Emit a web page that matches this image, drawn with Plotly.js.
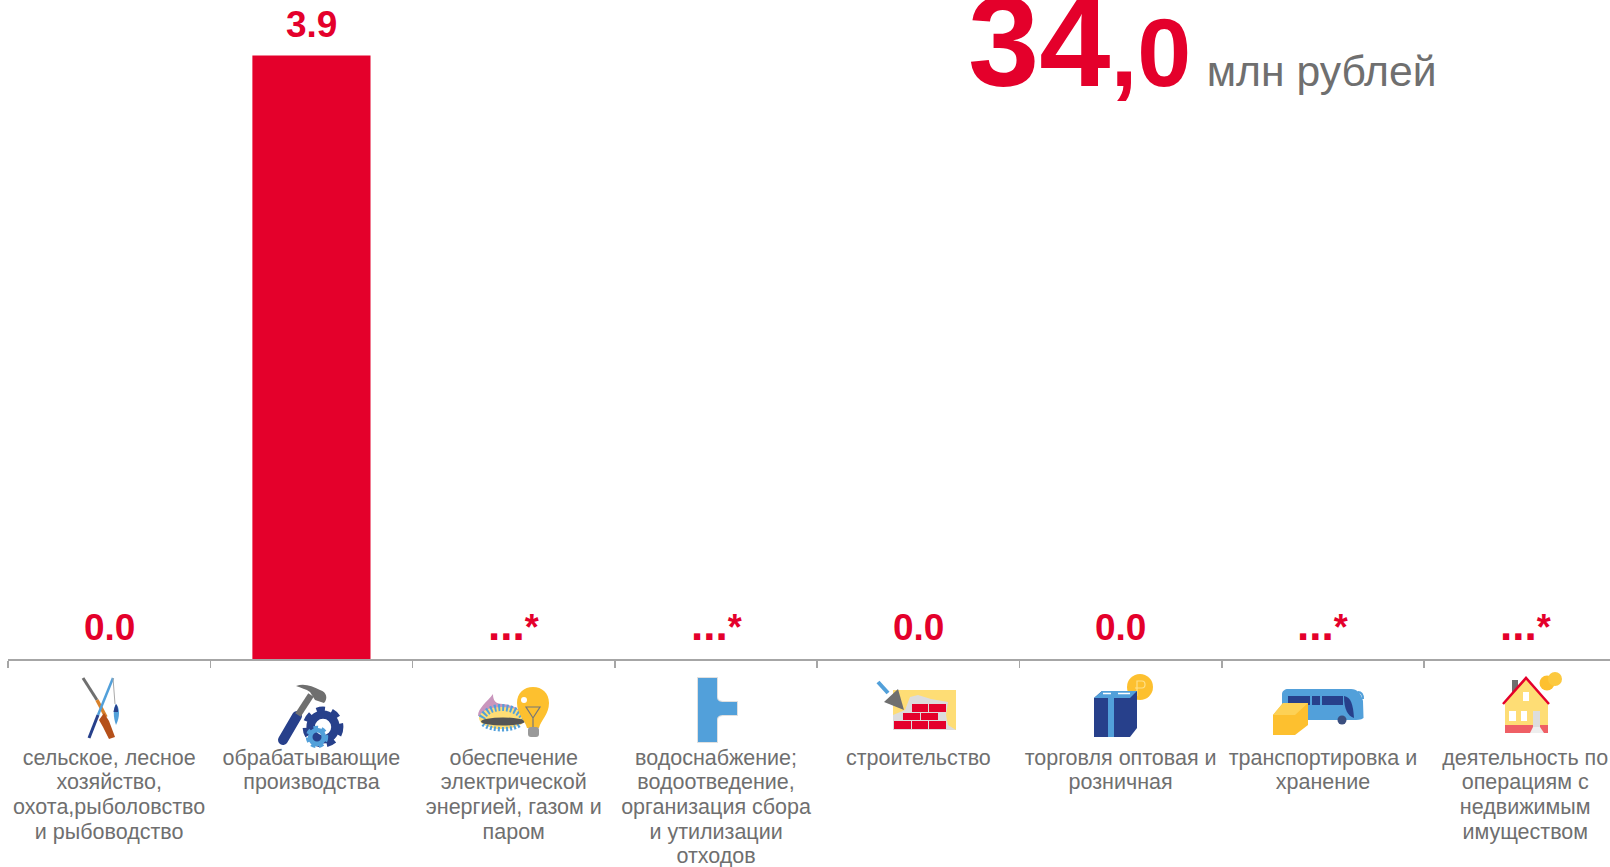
<!DOCTYPE html>
<html><head><meta charset="utf-8">
<script src="https://cdn.plot.ly/plotly-3.0.1.min.js"></script>
<style>html,body{margin:0;padding:0;background:#fff;overflow:hidden}#c{width:1610px;height:867px}</style>
</head><body><div id="c"></div>
<script>
const categories = [
 'сельское, лесное<br>хозяйство,<br>охота,рыболовство<br>и рыбоводство',
 'обрабатывающие<br>производства',
 'обеспечение<br>электрической<br>энергией, газом и<br>паром',
 'водоснабжение;<br>водоотведение,<br>организация сбора<br>и утилизации<br>отходов',
 'строительство',
 'торговля оптовая и<br>розничная',
 'транспортировка и<br>хранение',
 'деятельность по<br>операциям с<br>недвижимым<br>имуществом'];
const values = [0, 3.9, null, null, 0, 0, null, null];
const valueLabels = ['0.0','3.9','...*','...*','0.0','0.0','...*','...*'];
const RED='#e4002b', GREY='#6f6f6f', AXIS='#a6a6a6';
const BLUE='#52a0da', NAVY='#27408b', YEL='#fdc02f', LY='#fedd75';

const gear=(x,y,r,c)=>`<circle cx="${x}" cy="${y}" r="${r*0.62}" fill="none" stroke="${c}" stroke-width="${r*0.42}"/><circle cx="${x}" cy="${y}" r="${r*0.88}" fill="none" stroke="${c}" stroke-width="${r*0.28}" stroke-dasharray="${r*0.42} ${r*0.34}"/>`;
const bricks=(a)=>a.map(b=>`<rect x="${b[0]}" y="${b[1]}" width="${b[2]}" height="${b[3]}" fill="${RED}"/>`).join('');
// icons: [svg inner, width, height, left, top] in reference pixels
const icons=[
 [`<path d="M3 3L17 25" stroke="#6f6f6f" stroke-width="3"/><path d="M17 25L26 42" stroke="#d9822b" stroke-width="3.5"/><path d="M24 38L29 46L35 62L29 64L23 52L19 45Z" fill="#b5501a"/><path d="M33 3L18 40" stroke="${BLUE}" stroke-width="2.5"/><path d="M18 40L9 63" stroke="${NAVY}" stroke-width="3"/><path d="M33 3L35 29" stroke="#aaa" stroke-width="1"/><path d="M36 29C40 33 40 42 36 50C33 42 33 33 36 29Z" fill="${BLUE}"/><path d="M36 29C38 31 38 34 38 37L33.5 37C34 34 35 31 36 29Z" fill="${NAVY}"/>`,42,67,80,675],
 [`<path d="M13 65L27 41" stroke="${NAVY}" stroke-width="10" stroke-linecap="round"/><path d="M28 40L41 20" stroke="#6f6f6f" stroke-width="6.5"/><path d="M26 11C34 8 42 11 50 15C57 17 58 24 54 28L45 25L40 17C36 14 31 13 26 11Z" fill="#6f6f6f"/>${gear(53,52,20,NAVY)}${gear(47,62,11,BLUE)}`,76,76,270,675],
 [`<path d="M3 36C3 28 12 22 18 14C18 20 20 24 28 24C34 25 40 26 44 30L26 38Z" fill="#c996bd"/><ellipse cx="27" cy="38" rx="23" ry="11" fill="${LY}"/><path d="M7 38C14 24 38 24 49 38" fill="none" stroke="${BLUE}" stroke-width="7" stroke-dasharray="2 2"/><path d="M8 44C16 51 38 51 46 44" fill="none" stroke="${BLUE}" stroke-width="4.5" stroke-dasharray="2 2"/><ellipse cx="28" cy="41.5" rx="22" ry="4" fill="#555"/><path d="M52 48C50 40 42 34 42 23C42 13 49 7 58 7C67 7 74 13 74 23C74 34 66 40 64 48Z" fill="${YEL}"/><path d="M51 27L65 27L58 38ZM58 38L58 47" fill="none" stroke="#777" stroke-width="1.2"/><rect x="53" y="47" width="11" height="10" rx="3" fill="#999"/><circle cx="49" cy="20" r="3" fill="#fff"/>`,77,60,475,680],
 [`<path d="M4 3H23V22C23 26 26 27 30 27H43V40H30C26 40 23 41 23 45V67H4Z" fill="${BLUE}" stroke="#e0e0e0" stroke-width="2" paint-order="stroke"/>`,48,70,694,675],
 [`<rect x="18" y="12" width="63" height="40" fill="${LY}"/><path d="M18 52L18 37L30 32L35 19L43 17L56 21L73 24L71 37L73 47L81 52Z" fill="#dcdcdc"/>${bricks([[37,26,16,8],[54,26,17,8],[28,35,17,7],[46,35,17,7],[19,43,17,8],[37,43,16,8],[54,43,17,8]])}<path d="M3 4L13 15" stroke="${BLUE}" stroke-width="4"/><path d="M29 32L9 24L23 11Z" fill="#6f6f6f"/>`,82,54,875,678],
 [`<circle cx="48" cy="15" r="13" fill="${YEL}"/><path d="M45 24V9H50C54 9 54 16 50 16H43" fill="none" stroke="#fee08a" stroke-width="1.2"/><path d="M2 26L10 19H45V56L38 65H2Z" fill="${NAVY}"/><path d="M2 26L10 19H45L38 26Z" fill="${BLUE}"/><path d="M16 26H22V65H16Z" fill="${BLUE}"/><path d="M11 21.5H19M26 21.5H38" stroke="#fff" stroke-width="1.4"/>`,64,66,1092,672],
 [`<path d="M9 6C9 3 12 1 15 1H78C84 1 88 5 90 13L90.5 30C88 32 84 32 80 32H9Z" fill="${BLUE}"/><path d="M15 8H37V17H15ZM39 8H47V17H39ZM49 8H70V17H49Z" fill="${NAVY}"/><path d="M71 8C78 9 80 16 81 30C75 28 71 22 71 8Z" fill="${NAVY}"/><path d="M85 4C89 4 90 7 90 11" fill="none" stroke="${BLUE}" stroke-width="2"/><circle cx="69" cy="32" r="4.5" fill="#3b4f7f"/><path d="M0 27L10 15H35V37L22 47H0Z" fill="${YEL}"/><path d="M0 27L10 15H35L22 27Z" fill="#fdd155"/>`,93,50,1273,688],
 [`<rect x="12" y="9" width="6" height="14" fill="#6f6f6f"/><path d="M5 31L26 8L48 31V62H5Z" fill="${LY}"/><rect x="5" y="54" width="43" height="8" fill="#ef5f65"/><path d="M3 33L26 7L49 33" fill="none" stroke="${RED}" stroke-width="2.5"/><rect x="23" y="21" width="6" height="9" fill="#fff"/><rect x="9" y="40" width="7" height="10" fill="#fff"/><rect x="21" y="40" width="6" height="10" fill="#fff"/><rect x="33" y="40" width="7" height="16" fill="#ddd"/><path d="M30 62L33 56H40L44 62Z" fill="#eee"/><circle cx="47" cy="12" r="7.5" fill="${YEL}"/><circle cx="55" cy="8" r="7" fill="#fcc93f"/>`,66,63,1500,671]
];
const PLOT_H=659;
const images=icons.map(ic=>({
  source:'data:image/svg+xml,'+encodeURIComponent(`<svg xmlns="http://www.w3.org/2000/svg" width="${ic[1]}" height="${ic[2]}" viewBox="0 0 ${ic[1]} ${ic[2]}">${ic[0]}</svg>`),
  xref:'paper',yref:'paper',x:(ic[3]-8)/1602,y:(PLOT_H-ic[4])/PLOT_H,
  sizex:ic[1]/1602,sizey:ic[2]/PLOT_H,xanchor:'left',yanchor:'top',sizing:'stretch',layer:'above'}));

const FONT='Liberation Sans, Arial, sans-serif';
const annotations=categories.map((c,i)=>{
  const star=valueLabels[i]==='...*';
  return {
  x:i,xref:'x',y:values[i]===null?0:values[i],yref:'y',yanchor:'bottom',xanchor:'center',showarrow:false,
  yshift:star?8:9,
  text:star?'<b>...<span style="font-size:36px">*</span></b>':'<b>'+valueLabels[i]+'</b>',
  font:{family:FONT,size:star?44:37,color:RED}};
});
annotations.push({
  xref:'paper',yref:'paper',x:(966-8)/1602,y:1,xanchor:'left',yanchor:'top',yshift:32,showarrow:false,align:'left',
  font:{family:FONT,size:42.7,color:GREY},
  text:`<b><span style="font-size:128px;color:${RED}">34</span><span style="font-size:97px;color:${RED}">,0</span></b>\u200A млн рублей`
});

Plotly.newPlot('c',[{
  type:'bar',x:categories,y:values,marker:{color:RED,line:{width:0}},width:0.584,cliponaxis:false,hoverinfo:'x+y'
}],{
  width:1610,height:867,paper_bgcolor:'#fff',plot_bgcolor:'#fff',showlegend:false,
  margin:{l:8,r:0,t:0,b:208,pad:0},
  xaxis:{type:'category',categoryorder:'array',categoryarray:categories,range:[-0.5,7.419],
    tickson:'boundaries',ticks:'outside',ticklen:7,tickwidth:1.5,tickcolor:AXIS,showline:true,linecolor:AXIS,linewidth:2,
    showgrid:false,zeroline:false,tickangle:0,automargin:false,ticklabelstandoff:78,
    tickfont:{family:FONT,size:21.5,color:GREY}},
  yaxis:{range:[0,4.2587],visible:false,showgrid:false,zeroline:false,fixedrange:true},
  images:images,annotations:annotations
},{displayModeBar:false,staticPlot:true}).then(()=>{
  // tighten the category labels to the reference's line spacing
  document.querySelectorAll('#c .xtick text').forEach(t=>{
    t.querySelectorAll('tspan.line').forEach((l,i)=>l.setAttribute('dy',(i*24.6)+'px'));
  });
});
</script></body></html>
